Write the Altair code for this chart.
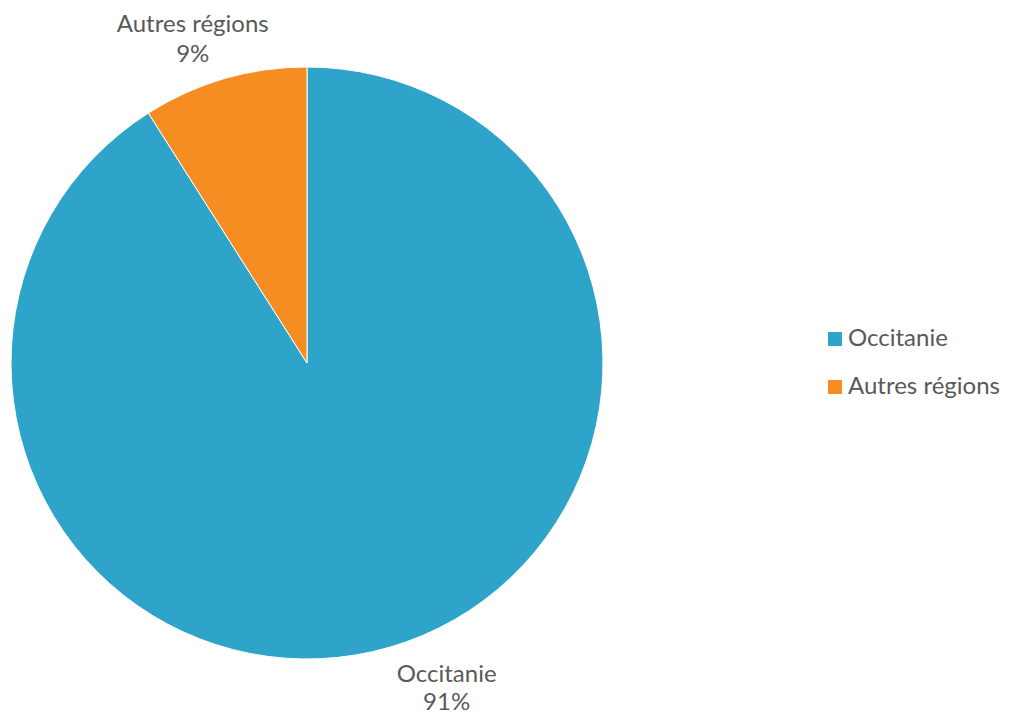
import altair as alt
import pandas as pd

categories = ["Occitanie", "Autres régions"]
values = [91, 9]
labels = ["Occitanie\n91%", "Autres régions\n9%"]
colors = ["#2FA4CB", "#F58D22"]

df = pd.DataFrame({
    "region": categories,
    "value": values,
    "label": labels,
    "order": list(range(len(categories))),
})

FONT = "Lato"
FS = 24
cx, cy, R = 299, 355, 296

pie = alt.Chart(df).mark_arc(radius=R, stroke="white", strokeWidth=1).encode(
    theta=alt.Theta("value:Q", stack=True),
    order=alt.Order("order:Q"),
    x=alt.value(cx), y=alt.value(cy),
    color=alt.Color(
        "region:N",
        scale=alt.Scale(domain=categories, range=colors),
        sort=categories,
        legend=alt.Legend(
            title=None, orient="none", legendX=815, legendY=319,
            symbolType="square", symbolSize=196, symbolStrokeWidth=0,
            labelFontSize=FS, labelFont=FONT, labelColor="#595959",
            rowPadding=24, labelOffset=1, labelLimit=400,
        ),
    ),
)

lab_base = alt.Chart(df).transform_window(
    cum="sum(value)", sort=[alt.SortField("order")], frame=[None, 0]
).transform_calculate(
    mid="datum.cum - datum.value / 2"
)

def label_layer(name, radius, dx, dy, lh):
    return lab_base.transform_filter(alt.datum.region == name).mark_text(
        radius=radius, font=FONT, fontSize=FS, color="#595959", lineBreak="\n",
        align="center", baseline="middle", lineHeight=lh, dx=dx, dy=dy,
    ).encode(
        theta=alt.Theta("mid:Q", stack=None),
        x=alt.value(cx), y=alt.value(cy), text="label:N",
    )

lab_occ = label_layer("Occitanie", 350, 42, -24, 28)
lab_aut = label_layer("Autres régions", 345, -18, -7, 30)

chart = alt.layer(pie, lab_occ, lab_aut).properties(
    width=993, height=706,
    autosize=alt.AutoSizeParams(type="none"),
    padding=0,
).configure_view(stroke=None)

chart.save("out.html", embed_options={"renderer": "svg", "actions": False})
